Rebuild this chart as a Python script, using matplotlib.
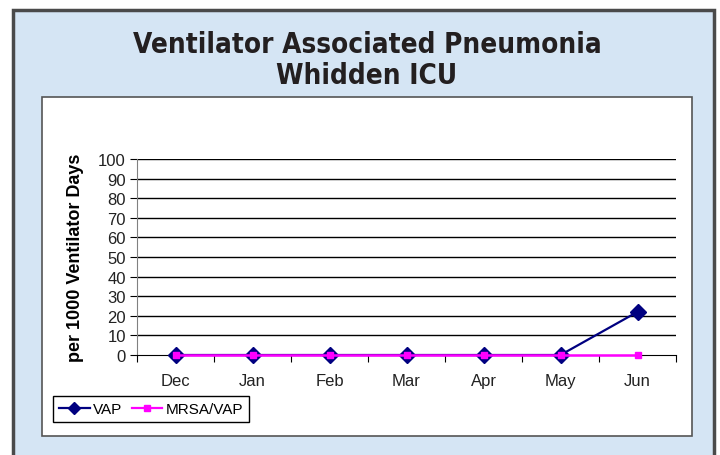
import matplotlib.pyplot as plt
from matplotlib.patches import Rectangle
from matplotlib.lines import Line2D
import numpy as np

months = ['Dec', 'Jan', 'Feb', 'Mar', 'Apr', 'May', 'Jun']
vap = [0, 0, 0, 0, 0, 0, 22]
mrsa_vap = [0, 0, 0, 0, 0, 0, 0]
yticks = list(range(0, 101, 10))

W, H = 720, 456
fig = plt.figure(figsize=(7.2, 4.56), dpi=100)
fig.patch.set_facecolor('white')

def px(x, y, w, h):
    # pixel box (top-left origin) -> figure fraction
    return (x / W, 1 - (y + h) / H, w / W, h / H)

# outer light-blue panel
x0, y0, w0, h0 = px(13, 11, 701, 460)
fig.patches.append(Rectangle((x0, y0), w0, h0, transform=fig.transFigure,
                             facecolor='#d5e5f4', edgecolor='#4a4a4a', lw=2.5, zorder=0))
# white chart box
x1, y1, w1, h1 = px(42, 98, 650, 339)
fig.patches.append(Rectangle((x1, y1), w1, h1, transform=fig.transFigure,
                             facecolor='white', edgecolor='#555555', lw=1.2, zorder=1))

title_font = dict(fontsize=20, fontweight='bold', family='DejaVu Sans',
                  fontstretch='condensed', color='#231f20', ha='center', va='center')
fig.text(367 / W, 1 - 45 / H, 'Ventilator Associated Pneumonia', **title_font)
fig.text(367 / W, 1 - 76 / H, 'Whidden ICU', **title_font)

ax = fig.add_axes(px(137, 160, 539, 196))
ax.set_zorder(5)
ax.set_facecolor('none')
xs = np.arange(len(months)) + 0.5
ax.set_xlim(0, len(months))
ax.set_ylim(0, 100)

for v in yticks[1:]:
    ax.axhline(v, color='black', lw=1, zorder=1)

ax.plot(xs, vap, color='#000080', lw=1.6, marker='D', ms=8.5,
        markerfacecolor='#000080', markeredgecolor='#000080', zorder=3, clip_on=False, label='VAP')
ax.plot(xs, mrsa_vap, color='#ff00ff', lw=1.8, marker='s', ms=4.5,
        markerfacecolor='#ff00ff', markeredgecolor='#ff00ff', zorder=4, clip_on=False, label='MRSA/VAP')

ax.set_yticks(yticks)
ax.set_yticklabels([str(v) for v in yticks], fontsize=12, family='Liberation Sans', color='#222222')
ax.set_xticks(np.arange(len(months) + 1))
ax.set_xticklabels([])
ax.set_xticks(xs, minor=True)
ax.set_xticklabels(months, minor=True, fontsize=12, family='Liberation Sans', color='#222222')
ax.tick_params(axis='x', which='major', direction='out', length=5, color='black')
ax.tick_params(axis='x', which='minor', length=0, pad=13)
ax.tick_params(axis='y', direction='out', length=5, color='black', pad=3)

for s in ['top', 'right']:
    ax.spines[s].set_visible(False)
ax.spines['left'].set_color('#808080')
ax.spines['bottom'].set_color('black')

ax.set_ylabel('per 1000 Ventilator Days', fontsize=13, fontweight='bold',
              family='Liberation Sans', labelpad=10)

handles = [Line2D([], [], color='#000080', lw=1.6, marker='D', ms=6),
           Line2D([], [], color='#ff00ff', lw=1.6, marker='s', ms=4)]
leg = fig.legend(handles, ['VAP', 'MRSA/VAP'], loc='center left',
                 bbox_to_anchor=(53 / W, 1 - 410 / H), ncol=2, frameon=True,
                 fancybox=False, edgecolor='black', framealpha=1, handlelength=2.0,
                 handletextpad=0.2, columnspacing=0.65, borderpad=0.4, borderaxespad=0,
                 prop={'family': 'Liberation Sans', 'size': 11})
leg.set_zorder(6)

fig.savefig('out.png', dpi=100)
